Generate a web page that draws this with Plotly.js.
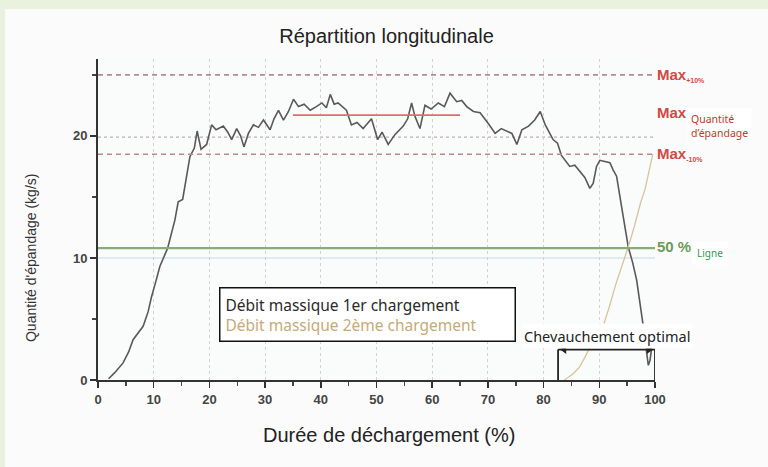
<!DOCTYPE html>
<html><head><meta charset="utf-8">
<script src="https://cdn.plot.ly/plotly-3.0.1.min.js"></script>
<style>
html,body{margin:0;padding:0;background:#e8f2dc;width:768px;height:467px;overflow:hidden}
#chart{position:absolute;left:5px;top:9px;width:763px;height:458px}
</style></head>
<body><div id="chart"></div>
<script>
// ---- data ----
const xLoad1 = [1.9,3.0,4.5,5.5,6.3,7.2,8.1,9.0,9.6,10.4,11.1,12.5,13.8,14.4,15.2,16.5,17.3,17.8,18.5,19.5,20.4,21.2,22.5,23.3,24.0,24.9,25.6,26.2,27.0,27.9,28.8,29.7,30.9,31.6,32.4,33.3,34.2,35.1,36.0,37.0,38.1,39.2,40.2,41.0,41.7,42.4,43.1,44.6,45.5,46.5,47.6,49.1,50.2,51.0,52.1,53.3,54.8,55.6,56.3,56.9,57.8,58.7,59.8,61.1,62.2,63.2,64.4,65.3,66.2,67.4,68.6,70.1,71.3,72.4,73.4,74.3,75.2,76.1,77.3,78.4,79.4,80.3,81.7,82.5,83.2,84.7,85.6,86.5,87.4,88.3,88.9,89.5,90.1,91.0,91.9,92.5,93.1,94.0,95.2,96.0,96.7,97.9,98.4,98.8,99.1,99.4];
const yLoad1 = [0.1,0.6,1.4,2.3,3.3,3.9,4.4,5.6,6.8,8.1,9.3,10.8,13.1,14.6,14.8,18.3,19.0,20.4,18.9,19.3,20.9,20.5,20.8,20.3,19.7,20.6,20.0,19.1,20.2,20.9,20.7,21.3,20.5,21.4,22.1,21.3,22.0,23.0,22.4,22.6,22.1,22.4,22.7,22.3,23.4,22.6,22.7,22.1,20.9,21.1,20.6,21.4,19.7,20.3,19.3,20.1,20.8,21.4,22.7,21.6,20.6,22.5,22.2,22.7,22.4,23.5,22.8,22.9,22.4,22.0,21.9,21.0,20.2,20.6,20.4,20.2,19.3,20.5,20.8,21.3,22.0,20.9,19.7,19.4,18.4,17.5,17.6,17.1,16.6,15.7,16.1,17.5,18.0,17.9,17.8,17.2,16.7,14.2,10.9,9.6,8.2,4.4,2.8,1.2,1.6,2.6];
const xLoad2 = [83.7,84.4,85.5,86.5,87.7,88.9,89.8,90.7,91.8,93.0,94.1,95.2,96.3,97.4,98.2,99.0,99.6];
const yLoad2 = [0,0.2,0.6,1.1,2.1,3.3,3.9,4.4,6.0,7.9,9.4,10.9,12.6,14.5,15.6,17.2,18.5];
const seriesNames = ['Débit massique 1er chargement','Débit massique 2ème chargement'];

const maxLevels = [25.0, 21.7, 18.5];          // Max +10 %, Max, Max -10 %
const maxLabels = ['+10%', '', '-10%'];
const maxSpan = [35, 65];                       // extent of the solid Max line
const gridMax = 19.9;                           // dotted reference line
const line50 = 10.8;                            // 50 % line
const overlap = [82.6, 100];                    // optimal overlap bracket
const overlapHeight = 2.5;
const xTicks = [0,10,20,30,40,50,60,70,80,90,100];
const yTicks = [0,10,20];

const TXT = 'Liberation Sans Narrow, Arial Narrow, Liberation Sans, Arial, sans-serif';
const UI = 'Noto Sans, Open Sans, sans-serif';
const RED = '#cf4a43';
const GREEN = '#6b9c5a';

const traces = [
  {x: xLoad1, y: yLoad1, name: seriesNames[0], mode: 'lines',
   line: {color: '#5b5858', width: 1.6}, showlegend: false, hoverinfo: 'skip'},
  {x: xLoad2, y: yLoad2, name: seriesNames[1], mode: 'lines',
   line: {color: '#d8c49c', width: 1.3}, showlegend: false, hoverinfo: 'skip'},
  // arrow heads of the overlap bracket
  {x: [overlap[0] + 1.1, overlap[1] - 1.1], y: [overlapHeight, overlapHeight], mode: 'markers',
   marker: {symbol: ['triangle-left', 'triangle-right'], size: 8, color: '#222'},
   cliponaxis: false, showlegend: false, hoverinfo: 'skip'}
];

const shapes = [
  {type:'line', xref:'paper', x0:0, x1:1, y0:yTicks[1], y1:yTicks[1], line:{color:'#d7e6ee', width:1.5}, layer:'below'},
  {type:'line', xref:'paper', x0:0, x1:1, y0:gridMax, y1:gridMax, line:{color:'#bdb3b3', width:1.2, dash:'dot'}, layer:'below'},
  {type:'line', xref:'paper', x0:0, x1:1, y0:maxLevels[0], y1:maxLevels[0], line:{color:'#b78d8a', width:1.6, dash:'5px,4px'}},
  {type:'line', xref:'paper', x0:0, x1:1, y0:maxLevels[2], y1:maxLevels[2], line:{color:'#b78d8a', width:1.6, dash:'5px,4px'}},
  {type:'line', x0:maxSpan[0], x1:maxSpan[1], y0:maxLevels[1], y1:maxLevels[1], line:{color:'#d9706a', width:1.6}},
  {type:'line', xref:'paper', x0:0, x1:1, y0:line50, y1:line50, line:{color:'#86ad78', width:2.2}},
  {type:'line', x0:overlap[0], x1:overlap[0], y0:0, y1:overlapHeight, line:{color:'#222', width:1.8}},
  {type:'line', x0:overlap[1], x1:overlap[1], y0:0, y1:overlapHeight, line:{color:'#222', width:1.8}},
  {type:'line', x0:overlap[0], x1:overlap[1], y0:overlapHeight, y1:overlapHeight, line:{color:'#222', width:1.8}}
];

const annotations = [
  {text:"Quantité d'épandage (kg/s)", xref:'paper', yref:'paper', x:0, y:0.38, xanchor:'center', yanchor:'middle',
   xshift:-67, textangle:-90, showarrow:false, font:{family:'Liberation Sans, Arial, sans-serif', size:14, color:'#333'}},
  {text:'Durée de déchargement (%)', xref:'paper', yref:'paper', x:0.523, y:0, yanchor:'middle', yshift:-55,
   showarrow:false, font:{family:TXT, size:20, color:'#222'}},
  {text: seriesNames[0] + '<br><span style="color:#c6aa78">' + seriesNames[1] + '</span>',
   x:48.3, y:5.4, xanchor:'center', yanchor:'middle', showarrow:false, align:'left',
   bgcolor:'#ffffff', bordercolor:'#111', borderwidth:1.5, borderpad:5, width:284,
   font:{family:UI, size:15.5, color:'#2a2a2a'}},
  {text:'Chevauchement optimal', x:91.4, y:3.6, xanchor:'center', yanchor:'middle', showarrow:false,
   bgcolor:'#ffffff', borderpad:2, font:{family:UI, size:14.5, color:'#222'}},
  {text:'50 %', x:100, y:line50+0.1, xanchor:'left', yanchor:'middle', showarrow:false,
   font:{family:'Liberation Sans, Arial, sans-serif', size:15, color:GREEN, weight:'bold'}},
  {text:'Ligne', xref:'paper', x:1.066, y:line50-0.4, xanchor:'left', yanchor:'middle', showarrow:false,
   bgcolor:'#ffffff', borderpad:4, font:{family:UI, size:10, color:'#2f9a58'}},
  {text:'Quantité<br>d’épandage', xref:'paper', x:1.058, y:20.8, xanchor:'left', yanchor:'middle', showarrow:false, align:'left',
   bgcolor:'#ffffff', borderpad:3, font:{family:UI, size:10.5, color:'#c0392b'}}
];
maxLevels.forEach((lv, i) => {
  const sub = maxLabels[i] ? '<sub><span style="font-size:7px">' + maxLabels[i] + '</span></sub>' : '';
  annotations.push({text:'Max' + sub, x:100, y: i === 1 ? lv + 0.25 : lv, xanchor:'left', yanchor:'middle',
    showarrow:false, font:{family:'Liberation Sans, Arial, sans-serif', size:15, color:RED, weight:'bold'}});
});

const layout = {
  width:763, height:458,
  paper_bgcolor:'#fbfbfb', plot_bgcolor:'#fafbfb',
  margin:{l:93, r:113, t:50, b:87},
  title:{text:'Répartition longitudinale', x:0.5, xref:'container', xanchor:'center',
         y:0.94, yref:'container', yanchor:'middle', font:{family:TXT, size:20, color:'#222'}},
  xaxis:{range:[0,100], tickvals:xTicks, ticktext:xTicks.map(String), showline:true, linecolor:'#333', linewidth:2,
         ticks:'outside', ticklen:6, tickwidth:1.5, tickcolor:'#333',
         minor:{dtick:5, tick0:0, ticks:'outside', ticklen:4, tickwidth:1.5, tickcolor:'#444', showgrid:false},
         showgrid:true, gridcolor:'#d9cfcf', griddash:'dot', gridwidth:1, zeroline:false,
         tickfont:{family:'Liberation Sans, Arial, sans-serif', size:13, color:'#444', weight:'bold'}, fixedrange:true},
  yaxis:{range:[0,26.3], tickvals:yTicks, ticktext:yTicks.map(String), showline:true, linecolor:'#333', linewidth:2,
         ticks:'outside', ticklen:6, tickwidth:1.5, tickcolor:'#333',
         minor:{dtick:5, tick0:0, ticks:'outside', ticklen:4, tickwidth:1.5, tickcolor:'#444', showgrid:false},
         showgrid:false, zeroline:false,
         tickfont:{family:'Liberation Sans, Arial, sans-serif', size:13, color:'#444', weight:'bold'}, fixedrange:true},
  shapes: shapes,
  annotations: annotations,
  showlegend:false
};

Plotly.newPlot('chart', traces, layout, {displayModeBar:false, staticPlot:true});
</script></body></html>
